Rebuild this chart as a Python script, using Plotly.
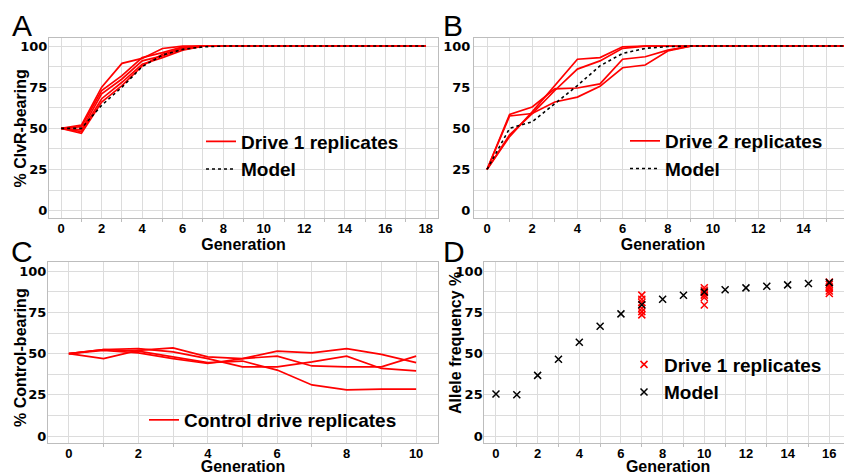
import plotly.graph_objects as go

# ---------------- data ----------------
gen_a = list(range(0, 19))
drive1_reps_a = [
    [50, 52, 75, 89.5, 92.5, 98.5, 100] + [100] * 12,
    [50, 51, 73, 82, 93, 96, 99.5] + [100] * 12,
    [50, 49, 71, 80, 91, 94, 98.5] + [100] * 12,
    [50, 48, 68, 78, 89, 93, 97.5] + [100] * 12,
    [50, 47, 66, 76, 88, 95, 99] + [100] * 12,
]
model_a = [50, 50, 64, 75, 87.5, 94.5, 98, 99.5] + [100] * 11

gen_b = list(range(0, 18))
drive2_reps_b = [
    [25, 45, 60, 76, 92, 93, 99.6, 100, 100, 100] + [100] * 8,
    [25, 46, 59, 73, 86, 91, 98.6, 100, 100, 100] + [100] * 8,
    [25, 58.5, 63, 74, 74.5, 77, 92, 93.5, 97.5, 100] + [100] * 8,
    [25, 57.5, 59, 66, 69, 75.5, 86.8, 88.5, 97, 100] + [100] * 8,
]
model_b = [25, 50, 54, 65, 76, 88, 95.5, 98.6, 99.7, 100] + [100] * 8

gen_c = list(range(0, 11))
control_reps_c = [
    [50, 52.5, 51.5, 48, 44.5, 45.5, 40, 31, 28, 28.5, 28.5],
    [50, 52, 50.5, 47, 44, 47, 51.5, 50.5, 53, 49.5, 44.5],
    [50, 47, 52, 53.5, 48, 47, 48.5, 42.5, 42, 42, 48.5],
    [50, 52.5, 53, 51, 47, 42, 42, 45, 48.5, 41, 39.5],
]

gen_d_model = list(range(0, 18))
model_d = [25.5, 25, 36.8, 46.6, 56.9, 66.6, 74.1, 79.7, 83, 85.4, 87.4,
           88.8, 89.9, 90.9, 91.7, 92.5, 93.1, 94]
gen_d_reps = [7] * 6 + [10] * 6 + [16] * 6
drive1_reps_d = [85.5, 83, 81, 77.5, 75.5, 73.5,
                 90, 88.5, 87, 85.5, 84, 79.5,
                 93.5, 92, 90.5, 89.5, 88, 86.5]

# ---------------- figure ----------------
RED = "#ff0000"
OFF = 8  # page body margin offset
W, H = 852 - OFF, 475 - OFF
FONT = "Liberation Sans"

fig = go.Figure()

# Panel A
for i, ys in enumerate(drive1_reps_a):
    fig.add_trace(go.Scatter(x=gen_a, y=ys, mode="lines", line=dict(color=RED, width=1.7),
                             name="Drive 1 replicates", showlegend=(i == 0), legend="legend",
                             xaxis="x", yaxis="y"))
fig.add_trace(go.Scatter(x=gen_a, y=model_a, mode="lines", line=dict(color="black", width=1.6, dash="dot"),
                         name="Model", legend="legend", xaxis="x", yaxis="y"))

# Panel B
for i, ys in enumerate(drive2_reps_b):
    fig.add_trace(go.Scatter(x=gen_b, y=ys, mode="lines", line=dict(color=RED, width=1.7),
                             name="Drive 2 replicates", showlegend=(i == 0), legend="legend2",
                             xaxis="x2", yaxis="y2"))
fig.add_trace(go.Scatter(x=gen_b, y=model_b, mode="lines", line=dict(color="black", width=1.6, dash="dot"),
                         name="Model", legend="legend2", xaxis="x2", yaxis="y2"))

# Panel C
for i, ys in enumerate(control_reps_c):
    fig.add_trace(go.Scatter(x=gen_c, y=ys, mode="lines", line=dict(color=RED, width=1.7),
                             name="Control drive replicates", showlegend=(i == 0), legend="legend3",
                             xaxis="x3", yaxis="y3"))

# Panel D
fig.add_trace(go.Scatter(x=gen_d_reps, y=drive1_reps_d, mode="markers",
                         marker=dict(symbol="x-thin", size=7, line=dict(color=RED, width=1.5)),
                         name="Drive 1 replicates", legend="legend4", xaxis="x4", yaxis="y4"))
fig.add_trace(go.Scatter(x=gen_d_model, y=model_d, mode="markers",
                         marker=dict(symbol="x-thin", size=7, line=dict(color="black", width=1.5)),
                         name="Model", legend="legend4", xaxis="x4", yaxis="y4"))

GRID = "#dcdcdc"
LINE = "#bdbdbd"
xtickfont = dict(family=FONT, size=13, color="black", weight="bold")
ytickfont = dict(family="DejaVu Sans", size=13, color="black", weight="bold")
titlefont = dict(family=FONT, size=16, color="black", weight="bold")


def xax(domain, rng, anchor):
    return dict(domain=domain, range=rng, anchor=anchor, tickmode="linear", tick0=0, dtick=2,
                showgrid=True, gridcolor=GRID, gridwidth=1, zeroline=False,
                showline=True, linecolor=LINE, linewidth=1, mirror=True,
                ticks="", tickfont=xtickfont, ticklabelstandoff=-2,
                minor=dict(dtick=1, showgrid=True, gridcolor=GRID, gridwidth=1,
                           ticks="outside", ticklen=3, tickcolor=LINE),
                title=dict(text="Generation", font=titlefont, standoff=0))


def yax(domain, rng, anchor, mirror, standoff):
    return dict(domain=domain, range=rng, anchor=anchor, tickmode="linear", tick0=0, dtick=25,
                showgrid=True, gridcolor=GRID, gridwidth=1, zeroline=False,
                showline=True, linecolor=LINE, linewidth=1, mirror=mirror,
                ticks="", tickfont=ytickfont, ticklabelstandoff=standoff,
                minor=dict(dtick=12.5, showgrid=True, gridcolor=GRID, gridwidth=1))


def px(v):
    # screen x -> paper
    return (v - OFF) / W


def py(v):
    # screen y -> paper
    return 1 - (v - OFF) / H


dom_a_x = [px(49), px(438)]
dom_b_x = [px(474), 1.0]
dom_c_x = [px(48), px(438)]
dom_d_x = [px(484.3), 1.0]
dom_top_y = [py(218), py(38)]
dom_bot_y = [py(443), py(262)]

legend_common = dict(bgcolor="rgba(0,0,0,0)", borderwidth=0, xanchor="left", yanchor="top",
                     font=dict(family=FONT, size=19, color="black", weight="bold"),
                     itemwidth=30, tracegroupgap=0)

fig.update_layout(
    width=W, height=H, margin=dict(l=0, r=0, t=0, b=0),
    paper_bgcolor="white", plot_bgcolor="white",
    xaxis=xax(dom_a_x, [-0.6, 18.6], "y"),
    yaxis=yax(dom_top_y, [-4.5, 104.9], "x", True, -2),
    xaxis2=xax(dom_b_x, [-0.575, 16.15], "y2"),
    yaxis2=yax(dom_top_y, [-4.5, 104.9], "x2", False, 0),
    xaxis3=xax(dom_c_x, [-0.6, 10.63], "y3"),
    yaxis3=yax(dom_bot_y, [-4.25, 105.6], "x3", True, -2),
    xaxis4=xax(dom_d_x, [-0.56, 17.09], "y4"),
    yaxis4=yax(dom_bot_y, [-4.25, 105.6], "x4", False, -2),
    legend=dict(x=px(201), y=py(122.5), **legend_common),
    legend2=dict(x=px(625), y=py(122), **legend_common),
    legend3=dict(x=px(144), y=py(401), **legend_common),
    legend4=dict(x=px(624), y=py(345.5), **legend_common),
    showlegend=True,
)

letter_font = dict(family=FONT, size=30, color="black")
for letter, lx, ly in [("A", 22, 26), ("B", 453, 26), ("C", 22, 252), ("D", 453.5, 252)]:
    fig.add_annotation(text=letter, x=px(lx), y=py(ly), xref="paper", yref="paper",
                       xanchor="center", yanchor="middle", showarrow=False, font=letter_font)

for title, tx, ty in [("% ClvR-bearing", 20, 128.5), ("% Control-bearing", 20, 358),
                      ("Allele frequency %", 455, 343)]:
    fig.add_annotation(text=title, x=px(tx), y=py(ty), xref="paper", yref="paper",
                       xanchor="center", yanchor="middle", showarrow=False, textangle=-90,
                       font=titlefont)

fig.write_html("out.html")
